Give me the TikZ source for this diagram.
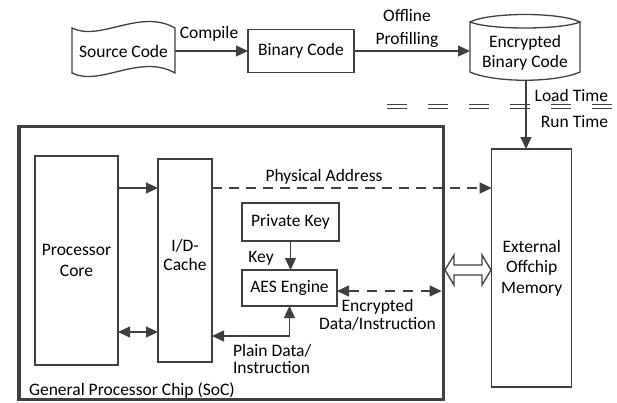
\documentclass[tikz,border=0pt]{standalone}
\usepackage{fontspec}
\setmainfont{Carlito}
\usetikzlibrary{arrows.meta,calc}
\definecolor{linec}{RGB}{64,64,64}
\begin{document}
\begin{tikzpicture}[x=1pt,y=-1pt,
  font=\fontsize{17.5}{20.5}\selectfont,
  ln/.style={draw=linec, line width=1.3pt},
  box/.style={ln, rectangle, inner sep=0pt, outer sep=0pt, align=center},
  lbl/.style={inner sep=0pt, outer sep=0pt, align=center},
  arr/.style={ln, -{Triangle[length=12pt,width=11pt]}},
  arrb/.style={ln, {Triangle[length=12pt,width=11pt]}-{Triangle[length=12pt,width=11pt]}},
  dsh/.style={dash pattern=on 10pt off 7pt},
]
\useasboundingbox (0,0) rectangle (617,402);

% top flow
\node[lbl, minimum width=103pt, minimum height=45pt] (src) at (123.5,51) {Source Code};
\draw[ln] (72,28) .. controls (100,42) and (140,8) .. (175,28) -- (175,73)
  .. controls (140,53) and (100,87) .. (72,73) -- cycle;
\node[box, minimum width=106pt, minimum height=43pt] (bin) at (301,51) {Binary Code};
\node[lbl, minimum width=110pt, minimum height=50pt] (cyl) at (525,53) {Encrypted\\Binary Code};
\draw[ln] (470,22) .. controls (490,12) and (560,12) .. (580,22)
  .. controls (560,30) and (490,30) .. (470,22) -- (470,72)
  .. controls (495,83) and (555,83) .. (580,72) -- (580,22);
\coordinate (cylb) at (526,80);

\draw[arr] (src.east) -- (bin.west);
\node[lbl] (cmp) at (209,34) {Compile};
\draw[arr] (bin.east) -- (bin.east -| cyl.west);
\node[lbl] (offl) at (407,28.5) {Offline\\[2.5pt]Profilling};

% load / run time
\coordinate (dl1) at (387,104.5); \coordinate (dr1) at (617,104.5);
\coordinate (dl2) at (387,108.5); \coordinate (dr2) at (617,108.5);
\draw[ln, dash pattern=on 20pt off 21pt] (dl1) -- (dr1);
\draw[ln, dash pattern=on 20pt off 21pt] (dl2) -- (dr2);
\node[lbl, anchor=east] (lt) at (608,95) {Load Time};
\node[lbl, anchor=east] (rt) at (608,122) {Run Time};

% chip
\node[draw=linec, line width=3.3pt, rectangle, inner sep=0pt, outer sep=0pt,
  minimum width=424.3pt, minimum height=272.6pt] (soc) at (231.2,263) {};
\node[lbl, anchor=west] (socl) at (29,390) {General Processor Chip (SoC)};

\node[box, minimum width=83pt, minimum height=209pt] (core) at (76.5,260.5) {Processor\\Core};
\node[box, minimum width=54pt, minimum height=203pt] (cache) at (185,260.5) {};
\node[lbl] (cachet) at (185,254.5) {I/D-\\[-1.5pt]Cache};
\node[box, minimum width=97pt, minimum height=38pt] (pk) at (290.5,222) {Private Key};
\node[box, minimum width=95pt, minimum height=36pt] (aes) at (289.5,288) {AES Engine};
\node[box, minimum width=80pt, minimum height=238pt] (mem) at (531.7,268) {External\\Offchip\\Memory};

\coordinate (ya) at (0,188);
\coordinate (yb) at (0,332);
\coordinate (yc) at (0,336);
\coordinate (yd) at (0,291);
\coordinate (ye) at (0,270);

\draw[arr] (cylb) -- (cylb |- mem.north);
\draw[arr] (core.east |- ya) -- (cache.west |- ya);
\draw[arrb] (core.east |- yb) -- (cache.west |- yb);
\draw[arr, dsh] (cache.east |- ya) -- (mem.west |- ya);
\node[lbl] (pa) at (324,177) {Physical Address};
\draw[arr] (pk.south) -- (pk.south |- aes.north);
\node[lbl] (key) at (261,258) {Key};
\draw[arrb] (cache.east |- yc) -| (aes.south);
\node[lbl, align=left, anchor=west] (pd) at (233,358.5) {Plain Data/\\[-3.5pt]Instruction};
\draw[arrb, dash pattern=on 10pt off 8pt, shorten >=1.65pt] (aes.east |- yd) -- (soc.east |- yd);
\node[lbl] (enc) at (377.5,315) {Encrypted\\[-2.5pt]Data/Instruction};

\draw[ln, fill=white] ($(soc.east |- ye)+(1.65,0)$) -- ++(9,-15) -- ++(0,10) -- ++(28,0)
  -- ++(0,-10) -- ++(9,15) -- ++(-9,15) -- ++(0,-10) -- ++(-28,0) -- ++(0,10) -- cycle;
\end{tikzpicture}
\end{document}
